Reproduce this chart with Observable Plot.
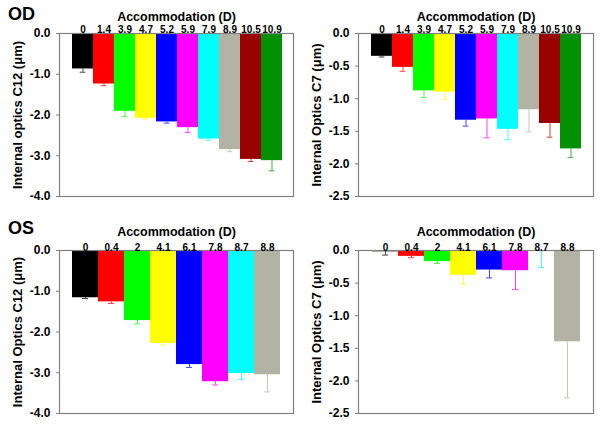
<!DOCTYPE html>
<html>
<head>
<meta charset="utf-8">
<script src="https://cdn.jsdelivr.net/npm/d3@7"></script>
<script src="https://cdn.jsdelivr.net/npm/@observablehq/plot@0.6"></script>
<style>
  html, body { margin: 0; padding: 0; background: #fff; }
  #wrap { position: relative; width: 600px; height: 426px; font-family: "Liberation Sans", Arial, sans-serif; }
  .panel { position: absolute; width: 300px; height: 213px; }
  .tag { position: absolute; font-weight: bold; font-size: 18px; line-height: 1; color: #000; z-index: 2; }
</style>
</head>
<body>
<div id="wrap">
  <div class="panel" id="p1" style="left:0;top:0"></div>
  <div class="panel" id="p2" style="left:300px;top:0"></div>
  <div class="panel" id="p3" style="left:0;top:213px"></div>
  <div class="panel" id="p4" style="left:300px;top:213px"></div>
  <div class="tag" style="left:8px;top:5px">OD</div>
  <div class="tag" style="left:8px;top:219px">OS</div>
</div>
<script>
// ---- data ----
const odLabels = ["0", "1.4", "3.9", "4.7", "5.2", "5.9", "7.9", "8.9", "10.5", "10.9"];
const odColors = ["#000000", "#ff0000", "#00ff00", "#ffff00", "#0000ff", "#ff00ff", "#00ffff", "#b3b3a3", "#990000", "#009000"];
const odC12 = [-0.87, -1.24, -1.91, -2.08, -2.17, -2.31, -2.59, -2.85, -3.09, -3.12];
const odC12Err = [0.08, 0.04, 0.13, 0.02, 0.03, 0.12, 0.03, 0.05, 0.05, 0.25];
const odC7 = [-0.35, -0.52, -0.88, -0.90, -1.33, -1.31, -1.47, -1.17, -1.38, -1.77];
const odC7Err = [0.01, 0.06, 0.10, 0.11, 0.09, 0.29, 0.16, 0.34, 0.21, 0.13];

const osLabels = ["0", "0.4", "2", "4.1", "6.1", "7.8", "8.7", "8.8"];
const osColors = ["#000000", "#ff0000", "#00ff00", "#ffff00", "#0000ff", "#ff00ff", "#00ffff", "#b3b3a3"];
const osC12 = [-1.16, -1.26, -1.72, -2.28, -2.80, -3.22, -3.02, -3.05];
const osC12Err = [0.02, 0.04, 0.08, 0.04, 0.07, 0.08, 0.14, 0.42];
const osC7 = [-0.02, -0.09, -0.17, -0.38, -0.30, -0.31, 0.00, -1.40];
const osC7Err = [0.05, 0.02, 0.03, 0.13, 0.12, 0.29, 0.26, 0.86];

const c12Ticks = [0, -1, -2, -3, -4];
const c7Ticks = [0, -0.5, -1, -1.5, -2, -2.5];
const xTitle = "Accommodation (D)";

function panel(el, cfg) {
  const data = cfg.labels.map((l, i) => ({
    label: l, value: cfg.values[i], low: cfg.values[i] - cfg.errs[i], color: cfg.colors[i]
  }));
  const bw = (cfg.xRange[1] - cfg.xRange[0]) / cfg.labels.length;
  const capInset = (bw - 6) / 2;
  const chart = Plot.plot({
    width: 300,
    height: 213,
    marginLeft: cfg.ml, marginRight: cfg.mr, marginTop: cfg.mt, marginBottom: cfg.mb,
    style: {fontFamily: "'Liberation Sans', Arial, sans-serif", fontWeight: "bold", fontSize: "12px", color: "#000", background: "transparent", overflow: "visible"},
    x: {domain: cfg.labels, range: cfg.xRange, padding: 0, axis: null},
    y: {domain: cfg.yDomain},
    color: {type: "identity"},
    marks: [
      Plot.ruleX(data, {x: "label", y1: "value", y2: "low", stroke: "color", strokeWidth: 1, strokeOpacity: 0.75}),
      Plot.tickY(data, {x: "label", y: "low", stroke: "color", strokeWidth: 1, strokeOpacity: 0.75, insetLeft: capInset, insetRight: capInset}),
      Plot.barY(data, {x: "label", y: "value", fill: "color", inset: 0}),
      Plot.frame({stroke: "#808080", strokeWidth: 1.2}),
      Plot.axisY({ticks: cfg.yTicks, tickFormat: d => d.toFixed(1), tickSize: 3, tickPadding: 6, label: null, stroke: "#808080", fill: "#000", fontSize: 12}),
      Plot.text(data, {x: "label", text: "label", frameAnchor: "top", dy: cfg.tickDy, fontSize: 10, fill: "#000"}),
      Plot.text([xTitle], {text: d => d, frameAnchor: "top", dy: cfg.titleDy, fontSize: 12.5, fill: "#000"}),
      Plot.text([cfg.yTitle], {text: d => d, frameAnchor: "left", textAnchor: "middle", rotate: -90, dx: -42, fontSize: 13, fill: "#000"})
    ]
  });
  document.getElementById(el).appendChild(chart);
}

panel("p1", {labels: odLabels, colors: odColors, values: odC12, errs: odC12Err,
  yDomain: [-4, 0], yTicks: c12Ticks, yTitle: "Internal optics C12 (\u03bcm)",
  ml: 59, mr: 7, mt: 33, mb: 17, xRange: [70, 283], tickDy: -7.7, titleDy: -21.5});
panel("p2", {labels: odLabels, colors: odColors, values: odC7, errs: odC7Err,
  yDomain: [-2.5, 0], yTicks: c7Ticks, yTitle: "Internal Optics C7 (\u03bcm)",
  ml: 58, mr: 7, mt: 33, mb: 17, xRange: [69, 282], tickDy: -7.7, titleDy: -21.5});
panel("p3", {labels: osLabels, colors: osColors, values: osC12, errs: osC12Err,
  yDomain: [-4, 0], yTicks: c12Ticks, yTitle: "Internal Optics C12 (\u03bcm)",
  ml: 59, mr: 7, mt: 37, mb: 13, xRange: [72, 280], tickDy: -7, titleDy: -23});
panel("p4", {labels: osLabels, colors: osColors, values: osC7, errs: osC7Err,
  yDomain: [-2.5, 0], yTicks: c7Ticks, yTitle: "Internal Optics C7 (\u03bcm)",
  ml: 58, mr: 7, mt: 37, mb: 13, xRange: [71.5, 279.5], tickDy: -7, titleDy: -23});
</script>
</body>
</html>
